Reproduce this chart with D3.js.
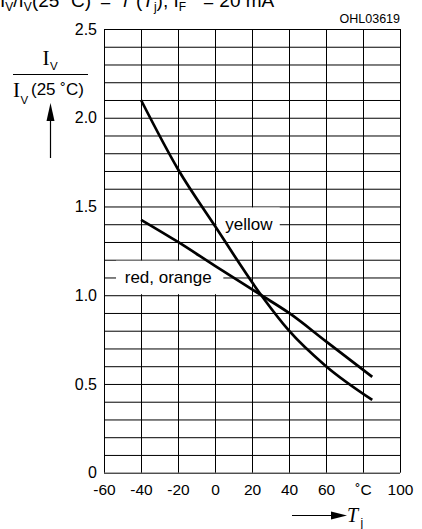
<!DOCTYPE html>
<html>
<head>
<meta charset="utf-8">
<script src="https://cdn.jsdelivr.net/npm/d3@7"></script>
<style>
  body { margin: 0; background: #fff; }
  svg { display: block; font-family: "Liberation Sans", Arial, sans-serif; }
</style>
</head>
<body>
<svg id="chart" width="422" height="529"></svg>
<script>
// junction temperature (deg C) and relative luminous intensity
const tempYellow = [-40, -20, 0, 25, 40, 60, 85];
const ratioYellow = [2.1, 1.71, 1.39, 1.0, 0.8, 0.6, 0.41];
const tempRed = [-40, -20, 0, 25, 40, 60, 85];
const ratioRed = [1.425, 1.3, 1.165, 1.0, 0.9, 0.74, 0.54];

const xTicks = [-60, -40, -20, 0, 20, 40, 60, 80, 100];
const xTickLabels = ["-60", "-40", "-20", "0", "20", "40", "60", "˚C", "100"];
const yTicks = [0, 0.5, 1.0, 1.5, 2.0, 2.5];
const yTickLabels = ["0", "0.5", "1.0", "1.5", "2.0", "2.5"];
const yGrid = [0, 0.1, 0.2, 0.3, 0.4, 0.5, 0.6, 0.7, 0.8, 0.9, 1.0, 1.1, 1.2,
  1.3, 1.4, 1.5, 1.6, 1.7, 1.8, 1.9, 2.0, 2.1, 2.2, 2.3, 2.4, 2.5];

const svg = d3.select("#chart");
const x = d3.scaleLinear().domain([-60, 100]).range([104, 400]);
const y = d3.scaleLinear().domain([0, 2.5]).range([472.7, 29]);
const w = x.range()[1] - x.range()[0];
const h = y.range()[0] - y.range()[1];

// grid
const gridY = svg.append("g")
  .attr("transform", `translate(${x.range()[0]},0)`)
  .call(d3.axisLeft(y).tickValues(yGrid).tickSize(-w).tickFormat(""));
const gridX = svg.append("g")
  .attr("transform", `translate(0,${y.range()[0]})`)
  .call(d3.axisBottom(x).tickValues(xTicks).tickSize(-h).tickFormat(""));
[gridX, gridY].forEach((g) => {
  g.select(".domain").remove();
  g.selectAll("line").attr("stroke", "#000").attr("stroke-width", 1);
});

// white boxes behind the curve labels
svg.append("rect")
  .attr("x", x(0.8)).attr("y", y(1.5) + 1)
  .attr("width", x(35) - x(0.8)).attr("height", y(1.3) - y(1.5) - 2)
  .attr("fill", "#fff");
svg.append("rect")
  .attr("x", x(-53.5)).attr("y", y(1.2) + 1)
  .attr("width", x(4.5) - x(-53.5)).attr("height", y(1.0) - y(1.2) - 2)
  .attr("fill", "#fff");

// curves
const line = d3.line()
  .x((d) => x(d[0]))
  .y((d) => y(d[1]))
  .curve(d3.curveMonotoneX);
const series = [
  d3.zip(tempYellow, ratioYellow),
  d3.zip(tempRed, ratioRed),
];
svg.selectAll(".curve")
  .data(series)
  .enter()
  .append("path")
  .attr("class", "curve")
  .attr("d", line)
  .attr("fill", "none")
  .attr("stroke", "#000")
  .attr("stroke-width", 2.7);

svg.append("text")
  .attr("x", x(5.5)).attr("y", y(1.4))
  .attr("dy", "0.35em")
  .attr("font-size", 17)
  .text("yellow");
svg.append("text")
  .attr("x", x(-48.8)).attr("y", y(1.1))
  .attr("dy", "0.35em")
  .attr("font-size", 17)
  .text("red, orange");

// tick labels
const yAxis = svg.append("g")
  .attr("transform", `translate(${x.range()[0]},0)`)
  .call(d3.axisLeft(y).tickValues(yTicks).tickSize(0).tickPadding(7)
    .tickFormat((d, i) => yTickLabels[i]));
const xAxis = svg.append("g")
  .attr("transform", `translate(0,${y.range()[0]})`)
  .call(d3.axisBottom(x).tickValues(xTicks).tickSize(0).tickPadding(11)
    .tickFormat((d, i) => xTickLabels[i]));
yAxis.selectAll("text").attr("font-size", 16);
xAxis.selectAll("text").attr("font-size", 15.5);
[xAxis, yAxis].forEach((g) => {
  g.select(".domain").remove();
  g.attr("font-family", null).selectAll("text").attr("fill", "#000");
});

svg.append("text")
  .attr("x", 400).attr("y", 23)
  .attr("text-anchor", "end")
  .attr("font-size", 12.5)
  .text("OHL03619");

// y axis title (fraction with arrow)
const serif = "'Liberation Serif', 'Times New Roman', serif";
svg.append("text").attr("x", 42.5).attr("y", 65)
  .attr("font-family", serif).attr("font-size", 21).text("I");
svg.append("text").attr("x", 50).attr("y", 70)
  .attr("font-size", 11.5).text("V");
svg.append("line")
  .attr("x1", 13).attr("x2", 88).attr("y1", 74.5).attr("y2", 74.5)
  .attr("stroke", "#000").attr("stroke-width", 1);
svg.append("text").attr("x", 13).attr("y", 97)
  .attr("font-family", serif).attr("font-size", 21).text("I");
svg.append("text").attr("x", 20.5).attr("y", 104)
  .attr("font-size", 11.5).text("V");
svg.append("text").attr("x", 31).attr("y", 94.5)
  .attr("font-size", 17).text("(25 ˚C)");
svg.append("line")
  .attr("x1", 50.5).attr("x2", 50.5).attr("y1", 158).attr("y2", 116)
  .attr("stroke", "#000").attr("stroke-width", 1.2);
svg.append("path")
  .attr("d", "M50.5,103 L46.5,121 L54.5,121 Z")
  .attr("fill", "#000");

// x axis title
svg.append("line")
  .attr("x1", 292).attr("x2", 336).attr("y1", 515.5).attr("y2", 515.5)
  .attr("stroke", "#000").attr("stroke-width", 1.2);
svg.append("path")
  .attr("d", "M347,515.5 L331,511.5 L331,519.5 Z")
  .attr("fill", "#000");
svg.append("text").attr("x", 347).attr("y", 522)
  .attr("font-family", serif).attr("font-style", "italic")
  .attr("font-size", 20).text("T");
svg.append("text").attr("x", 360.5).attr("y", 527)
  .attr("font-size", 12).text("j");

// heading, mostly cut off at the top edge
const title = svg.append("text").attr("y", 7).attr("font-size", 19);
title.append("tspan").attr("x", 0).text("I");
title.append("tspan").attr("dy", 3.5).attr("font-size", 12).text("V");
title.append("tspan").attr("dy", -3.5).text("/I");
title.append("tspan").attr("dy", 3.5).attr("font-size", 12).text("V");
title.append("tspan").attr("dy", -3.5).text("(25 ˚C)");
title.append("tspan").attr("x", 100).text("=");
title.append("tspan").attr("x", 123).attr("font-style", "italic").text("f");
title.append("tspan").attr("x", 136).text("(");
title.append("tspan").attr("font-style", "italic").text("T");
title.append("tspan").attr("dy", 3.5).attr("font-size", 12).text("j");
title.append("tspan").attr("dy", -3.5).text("), I");
title.append("tspan").attr("dy", 3.5).attr("font-size", 12).text("F");
title.append("tspan").attr("dy", -3.5).attr("x", 203).text("= 20 mA");
</script>
</body>
</html>
